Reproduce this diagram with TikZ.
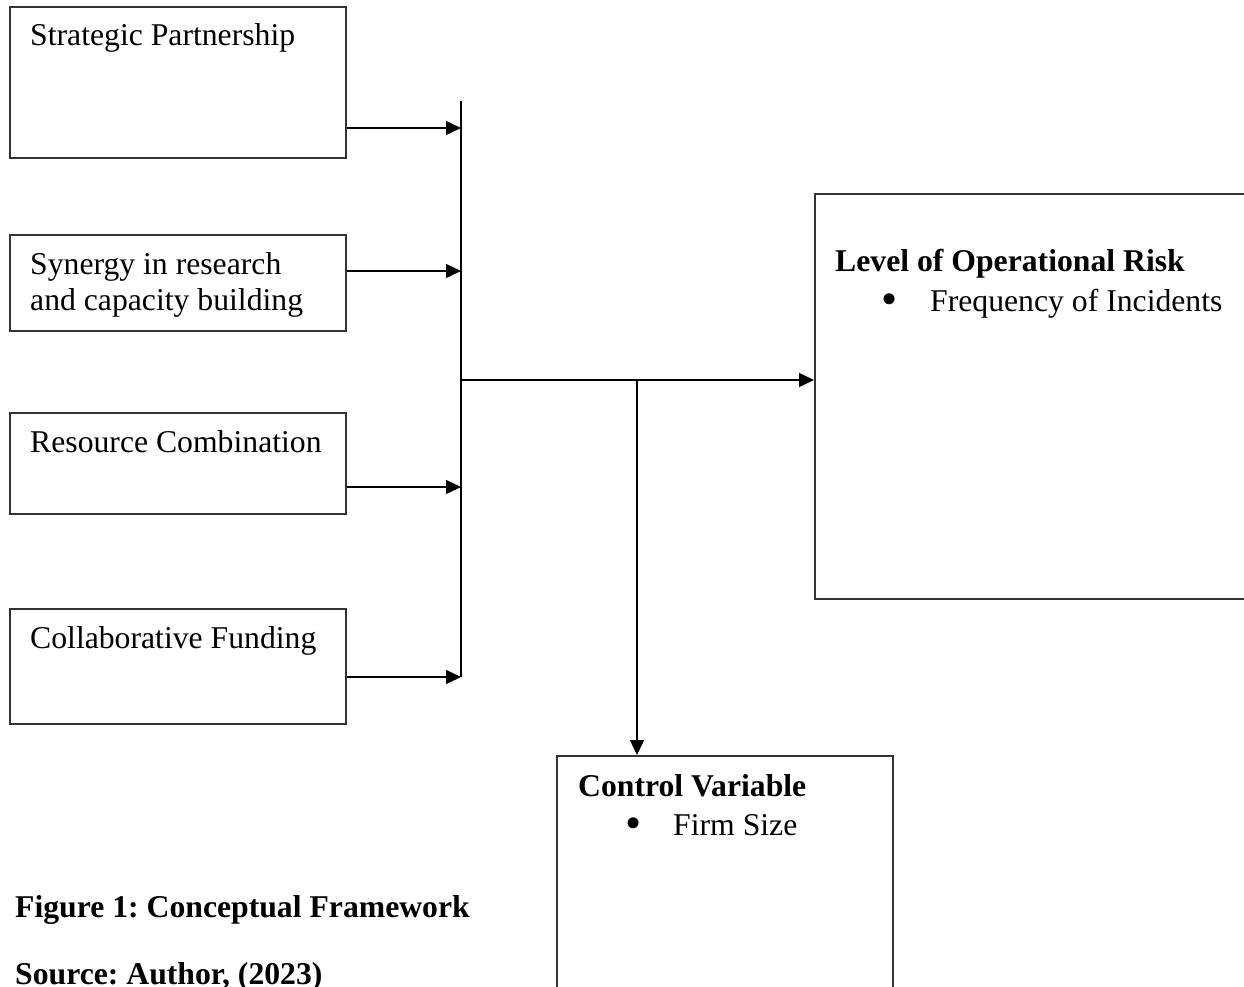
\documentclass[tikz,border=0pt]{standalone}
\usepackage{fontspec}
\setmainfont{Liberation Serif}
\usetikzlibrary{positioning,arrows.meta}
\frenchspacing
\newcommand{\bigbullet}{{\fontsize{46}{36}\selectfont\raisebox{-3pt}{\textbullet}}}

\begin{document}
\begin{tikzpicture}[
  x=1pt, y=-1pt,
  box/.style={
    draw=black!80, line width=1.6pt,
    anchor=north west, inner sep=0pt
  },
  boxtext/.style={
    anchor=base west, inner sep=0pt,
    font=\fontsize{31.7}{36}\selectfont
  },
  boxhead/.style={
    boxtext, font=\fontsize{31.7}{36}\selectfont\bfseries
  },
  arrow/.style={-{Triangle[length=15pt,width=14pt]}, line width=1.4pt},
  bus/.style={line width=1.4pt}
]
\useasboundingbox (0,0) rectangle (1244,987);

% --- Zmienne niezalezne ---
\node[box, minimum width=336pt, minimum height=151pt] (sp) at (9,6) {};
\node[boxtext] at (30,46) {Strategic Partnership};

\node[box, minimum width=336pt, minimum height=96pt] (syn) at (9,234) {};
\node[boxtext] at (30,274) {Synergy in research};
\node[boxtext] at (30,310) {and capacity building};

\node[box, minimum width=336pt, minimum height=101pt] (res) at (9,412) {};
\node[boxtext] at (30,452) {Resource Combination};

\node[box, minimum width=336pt, minimum height=115pt] (fund) at (9,608) {};
\node[boxtext] at (30,648) {Collaborative Funding};

% --- Zmienna zalezna ---
\node[box, minimum width=440pt, minimum height=405pt] (risk) at (814,193) {};
\node[boxhead] at (835,271) {Level of Operational Risk};
\node[boxtext] at (881,311) {\bigbullet};
\node[boxtext] at (930,311) {Frequency of Incidents};

% --- Zmienna kontrolna ---
\node[box, minimum width=336pt, minimum height=260pt] (ctrl) at (556,755) {};
\node[boxhead] at (578,796) {Control Variable};
\node[boxtext] at (625,835) {\bigbullet};
\node[boxtext] at (673,835) {Firm Size};

% --- Podpis ---
\node[boxhead] (fig) at (15,917) {Figure 1: Conceptual Framework};
\node[boxhead] (src) at (15,984) {Source: Author, (2023)};

% --- Polaczenia ---
\coordinate (bustop) at (461,101);
\coordinate (busbot) at (461,677);
\coordinate (in1) at (461,128);
\coordinate (in2) at (461,271);
\coordinate (in3) at (461,487);
\coordinate (in4) at (461,677);
\coordinate (junc) at (461,380);
\coordinate (split) at (637,380);

\draw[bus] (bustop) -- (busbot);
\draw[arrow] (sp.east |- in1) -- (in1);
\draw[arrow] (syn.east |- in2) -- (in2);
\draw[arrow] (res.east |- in3) -- (in3);
\draw[arrow] (fund.east |- in4) -- (in4);

\draw[arrow] (junc) -- (risk.west |- junc);
\draw[arrow] (split) -- (ctrl.north -| split);

\end{tikzpicture}
\end{document}
